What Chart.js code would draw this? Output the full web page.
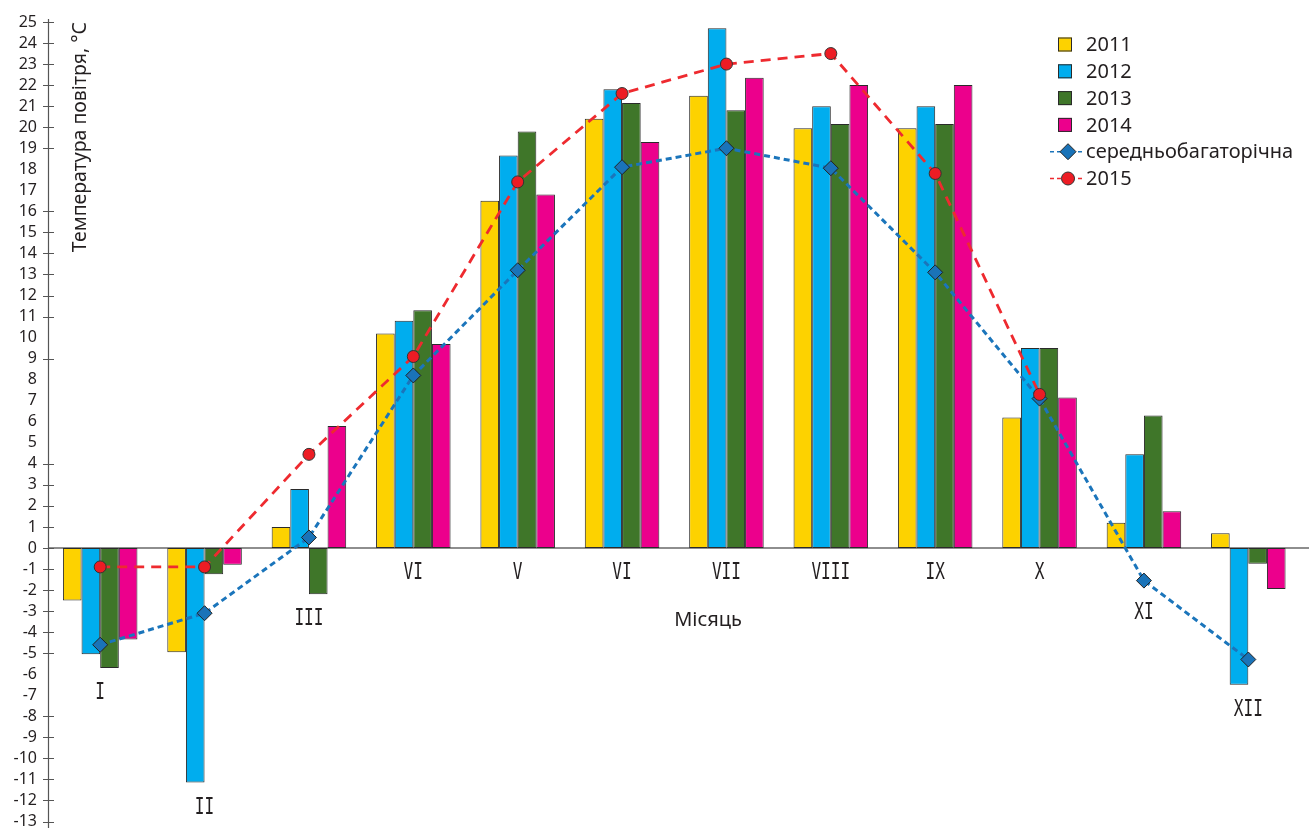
<!DOCTYPE html>
<html>
<head>
<meta charset="utf-8">
<script src="https://cdn.jsdelivr.net/npm/chart.js@4.4.1/dist/chart.umd.min.js"></script>
<style>
  html, body { margin: 0; padding: 0; background: #fff; overflow: hidden; }
  canvas { display: block; }
</style>
</head>
<body>
<canvas id="chart" width="1309" height="840"></canvas>
<script>
// Monthly mean air temperature, °C
const months  = ['I', 'II', 'III', 'VI', 'V', 'VI', 'VII', 'VIII', 'IX', 'X', 'XI', 'XII'];
const t2011   = [-2.5, -4.95, 1.0, 10.2, 16.5, 20.4, 21.5, 19.95, 19.95, 6.2, 1.2, 0.7];
const t2012   = [-5.05, -11.15, 2.8, 10.8, 18.65, 21.8, 24.7, 21.0, 21.0, 9.5, 4.45, -6.5];
const t2013   = [-5.7, -1.25, -2.2, 11.3, 19.8, 21.15, 20.8, 20.15, 20.15, 9.5, 6.3, -0.75];
const t2014   = [-4.35, -0.8, 5.8, 9.7, 16.8, 19.3, 22.35, 22.0, 22.0, 7.15, 1.75, -1.95];
const tNorm   = [-4.6, -3.1, 0.5, 8.2, 13.2, 18.1, 19.0, 18.05, 13.1, 7.1, -1.55, -5.3];
const t2015   = [-0.9, -0.9, 4.45, 9.1, 17.4, 21.6, 23.0, 23.5, 17.8, 7.3, null, null];

const seriesNames = ['2011', '2012', '2013', '2014', 'середньобагаторічна', '2015'];
const yMin = -13, yMax = 25;
// tick values drawn without a tick mark on the axis
const yTicksUnmarked = [18, 17, 10, 8, 7, 6, 5, -6, -7];

const yTitle = 'Температура повітря, °С';
const xTitle = 'Місяць';

const INK = '#231f20';
const SANS = '"Noto Sans", "DejaVu Sans", sans-serif';

const barStyle = (color) => ({
  backgroundColor: color,
  borderColor: '#2a2a2a',
  borderWidth: 1,
  borderSkipped: false,
  categoryPercentage: 0.714,
  barPercentage: 1.0,
  order: 2
});

const datasets = [
  { type: 'bar', label: seriesNames[0], data: t2011, ...barStyle('#fdd200') },
  { type: 'bar', label: seriesNames[1], data: t2012, ...barStyle('#00adee') },
  { type: 'bar', label: seriesNames[2], data: t2013, ...barStyle('#3f7629') },
  { type: 'bar', label: seriesNames[3], data: t2014, ...barStyle('#ec008c') },
  {
    type: 'line', label: seriesNames[4], data: tNorm,
    borderColor: '#1b75bb', borderWidth: 3, borderDash: [6, 4], tension: 0, fill: false,
    pointStyle: 'rectRot', pointRadius: 7.5, pointBackgroundColor: '#1a73b8',
    pointBorderColor: '#222', pointBorderWidth: 1, order: 1
  },
  {
    type: 'line', label: seriesNames[5], data: t2015,
    borderColor: '#ee2a2f', borderWidth: 2.8, borderDash: [10, 7], tension: 0, fill: false,
    pointStyle: 'circle', pointRadius: 6, pointBackgroundColor: '#ed1c24',
    pointBorderColor: '#333', pointBorderWidth: 1, order: 0
  }
];

// axis line, tick marks, tick labels and the zero line
const axisDecor = {
  id: 'axisDecor',
  beforeDatasetsDraw(chart) {
    const { ctx, chartArea: a, scales: { y } } = chart;
    const y0 = Math.round(y.getPixelForValue(0));
    ctx.save();
    ctx.strokeStyle = '#8e8e8e';
    ctx.lineWidth = 2;
    ctx.beginPath();
    ctx.moveTo(a.left, y0);
    ctx.lineTo(chart.width, y0);
    ctx.stroke();

    ctx.strokeStyle = '#555';
    ctx.lineWidth = 1.2;
    ctx.beginPath();
    ctx.moveTo(a.left + 0.5, a.top - 3);
    ctx.lineTo(a.left + 0.5, chart.height);
    y.ticks.forEach(t => {
      if (yTicksUnmarked.includes(t.value)) return;
      const py = Math.round(y.getPixelForValue(t.value)) + 0.5;
      ctx.moveTo(a.left - 5, py);
      ctx.lineTo(a.left + 6, py);
    });
    ctx.stroke();

    ctx.fillStyle = INK;
    ctx.font = '16px ' + SANS;
    ctx.textAlign = 'right';
    ctx.textBaseline = 'middle';
    y.ticks.forEach(t => {
      ctx.fillText(String(t.value), a.left - 11, y.getPixelForValue(t.value));
    });
    ctx.restore();
  }
};

// month labels under each group, axis titles and the legend
const annotations = {
  id: 'annotations',
  afterDatasetsDraw(chart) {
    const { ctx, scales: { x, y } } = chart;
    const y0 = y.getPixelForValue(0);
    ctx.save();

    // month names below the lowest mark of each group
    ctx.fillStyle = INK;
    ctx.font = '23px "DejaVu Sans Mono", monospace';
    ctx.textAlign = 'center';
    ctx.textBaseline = 'middle';
    months.forEach((m, i) => {
      let low = y0;
      chart.data.datasets.forEach((ds, di) => {
        if (ds.data[i] == null) return;
        const meta = chart.getDatasetMeta(di);
        const el = meta.data[i];
        if (!el) return;
        if (meta.type === 'bar') low = Math.max(low, el.y, el.base);
        else low = Math.max(low, el.y + el.options.radius);
      });
      const cx = x.getPixelForValue(i);
      ctx.save();
      ctx.translate(cx, low + 25);
      ctx.scale(0.7, 1);
      ctx.fillText(m, 0, 0);
      ctx.restore();
    });

    // x-axis title
    ctx.font = '20px ' + SANS;
    ctx.fillText(xTitle, 708, 620);

    // y-axis title
    ctx.save();
    ctx.translate(80, 22);
    ctx.rotate(-Math.PI / 2);
    ctx.textAlign = 'right';
    ctx.font = '19.5px ' + SANS;
    ctx.fillText(yTitle, 0, 0);
    ctx.restore();

    // legend
    const lx = 1058, tx = 1086, ly0 = 44.5, step = 26.8;
    ctx.textAlign = 'left';
    ctx.font = '20px ' + SANS;
    chart.data.datasets.forEach((ds, i) => {
      const cy = ly0 + i * step;
      if (ds.type === 'bar') {
        ctx.fillStyle = ds.backgroundColor;
        ctx.fillRect(lx, cy - 7, 14, 14);
        ctx.strokeStyle = '#2a2a2a';
        ctx.lineWidth = 1;
        ctx.strokeRect(lx + 0.5, cy - 6.5, 13, 13);
      } else {
        ctx.save();
        ctx.strokeStyle = ds.borderColor;
        ctx.lineWidth = 1.5;
        ctx.setLineDash([4, 3]);
        ctx.beginPath();
        ctx.moveTo(1050, cy);
        ctx.lineTo(1085, cy);
        ctx.stroke();
        ctx.restore();
        ctx.save();
        ctx.fillStyle = ds.pointBackgroundColor;
        ctx.strokeStyle = ds.pointBorderColor;
        ctx.lineWidth = 1;
        ctx.beginPath();
        if (ds.pointStyle === 'rectRot') {
          const r = 8;
          ctx.moveTo(1068, cy - r);
          ctx.lineTo(1068 + r, cy);
          ctx.lineTo(1068, cy + r);
          ctx.lineTo(1068 - r, cy);
          ctx.closePath();
        } else {
          ctx.arc(1068, cy, 6.5, 0, Math.PI * 2);
        }
        ctx.fill();
        ctx.stroke();
        ctx.restore();
      }
      ctx.fillStyle = INK;
      ctx.fillText(ds.label, tx, cy + 1);
    });
    ctx.restore();
  }
};

new Chart(document.getElementById('chart'), {
  data: { labels: months, datasets },
  options: {
    responsive: false,
    animation: false,
    layout: { padding: { top: 22, bottom: 18.5, left: 0, right: 1 } },
    plugins: { legend: { display: false }, tooltip: { enabled: false } },
    scales: {
      x: { display: false, offset: true },
      y: {
        min: yMin,
        max: yMax,
        grid: { display: false, drawTicks: false },
        border: { display: false },
        ticks: { stepSize: 1, autoSkip: false, display: false },
        afterFit(scale) {
          scale.width = 48;
        }
      }
    }
  },
  plugins: [axisDecor, annotations]
});
</script>
</body>
</html>
